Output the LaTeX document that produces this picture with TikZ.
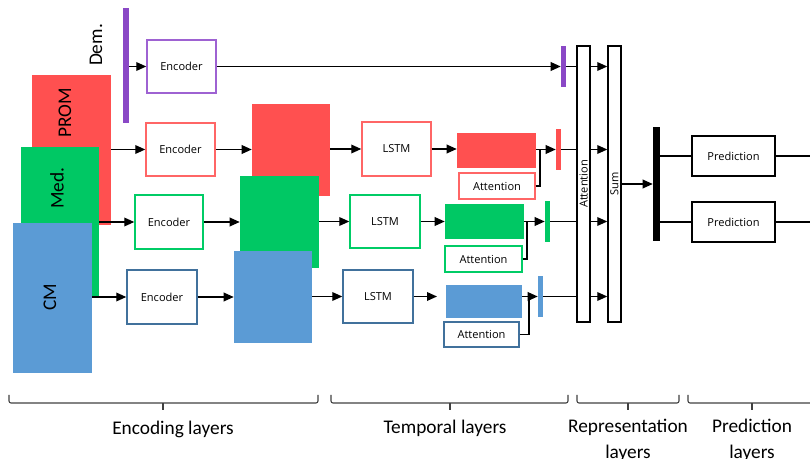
\documentclass[tikz,border=0pt]{standalone}
\usepackage{fontspec}
\setmainfont{Open Sans}
\newfontfamily\calib{Carlito}
\usetikzlibrary{arrows.meta}

\definecolor{promred}{HTML}{FF5050}
\definecolor{medgreen}{HTML}{00C864}
\definecolor{cmblue}{HTML}{5B9BD5}
\definecolor{dempurple}{HTML}{8A48C6}
\definecolor{redline}{HTML}{FF6666}
\definecolor{greenline}{HTML}{00CC66}
\definecolor{blueline}{HTML}{41719C}
\definecolor{purpleline}{HTML}{9E62D2}
\definecolor{bracket}{HTML}{404040}

% rectangle node from its two corners: [options]{name}{x1}{y1}{x2}{y2}{text}
\newcommand{\rectnode}[7][]{%
  \node[#1, minimum width={(#5-#3)*0.75pt}, minimum height={(#6-#4)*0.75pt}]
    (#2) at ({(#3+#5)/2},{(#4+#6)/2}) {#7};}

\begin{document}
\begin{tikzpicture}[x=0.75pt,y=-0.75pt,
  box/.style={draw, line width=1.1pt, fill=white, inner sep=0pt,
              font=\fontsize{8.3}{10}\selectfont},
  blk/.style={inner sep=0pt, draw=none},
  link/.style={line width=1pt},
  arr/.style={link, -{Triangle[length=7.5pt,width=6.5pt]}},
  bigtxt/.style={font=\calib\fontsize{14.5}{17}\selectfont, rotate=90, inner sep=0pt},
  sidetxt/.style={font=\fontsize{8.3}{10}\selectfont, rotate=90, inner sep=0pt},
  laytxt/.style={font=\calib\fontsize{14.5}{19.5}\selectfont, align=center, inner sep=0pt},
  brk/.style={draw=bracket, line width=0.8pt, rounded corners=1.5pt},
]
\useasboundingbox (0,0) rectangle (810,459);

% ---------- input modalities ----------
\rectnode[blk, fill=promred]{prom}{32}{75}{111}{225}{}
\rectnode[blk, fill=medgreen]{med}{21}{147}{99}{297}{}
\rectnode[blk, fill=cmblue]{cm}{13}{223}{92}{373}{}
\rectnode[blk, fill=dempurple]{dbar}{123}{8}{129}{123}{}
\node[bigtxt] (demlab) at (96,45) {Dem.};
\node[bigtxt] (promlab) at (65,113) {PROM};
\node[bigtxt] (medlab) at (57,188) {Med.};
\node[bigtxt] (cmlab) at (50,297) {CM};

% ---------- encoders ----------
\rectnode[box, draw=purpleline]{denc}{147}{40}{216}{93}{Encoder}
\rectnode[box, draw=redline]{renc}{146}{123}{215}{176}{Encoder}
\rectnode[box, draw=greenline]{genc}{135}{195}{203}{249}{Encoder}
\rectnode[box, draw=blueline]{benc}{127}{270}{197}{324}{Encoder}

% encoded sequences
\rectnode[blk, fill=promred]{rblk}{252}{104}{330}{196}{}
\rectnode[blk, fill=medgreen]{gblk}{240}{176}{319}{268}{}
\rectnode[blk, fill=cmblue]{bblk}{234}{251}{312}{343}{}

% ---------- temporal layers ----------
\rectnode[box, draw=redline]{rlstm}{362}{122}{431}{176}{LSTM}
\rectnode[box, draw=greenline]{glstm}{350}{195}{420}{248}{LSTM}
\rectnode[box, draw=blueline]{blstm}{343}{270}{413}{323}{LSTM}

\rectnode[blk, fill=promred]{rrect}{457}{133}{536}{168}{}
\rectnode[blk, fill=medgreen]{grect}{445}{204}{524}{239}{}
\rectnode[blk, fill=cmblue]{brect}{446}{285}{522}{318}{}

\rectnode[box, draw=redline]{ratt}{459}{173}{535}{199}{Attention}
\rectnode[box, draw=greenline]{gatt}{445}{246}{522}{272}{Attention}
\rectnode[box, draw=blueline]{batt}{444}{322}{519}{347}{Attention}

% per-modality representations
\rectnode[blk, fill=dempurple]{dsm}{561}{46}{566}{87}{}
\rectnode[blk, fill=promred]{rsm}{556}{129}{561}{170}{}
\rectnode[blk, fill=medgreen]{gsm}{545}{201}{550}{242}{}
\rectnode[blk, fill=cmblue]{bsm}{538}{276}{543}{317}{}

% ---------- representation layers ----------
\rectnode[box]{attn}{577}{46}{590}{322}{}
\node[sidetxt] (attnlab) at (attn.center) {Attention};
\rectnode[box]{sum}{608}{46}{621}{322}{}
\node[sidetxt] (sumlab) at (sum.center) {Sum};

% ---------- prediction layers ----------
\rectnode[blk, fill=black]{kbar}{653}{127}{660}{241}{}
\rectnode[box]{pred1}{692}{136}{775}{176}{Prediction}
\rectnode[box]{pred2}{692}{202}{775}{242}{Prediction}
\coordinate (out1) at (810,156);
\coordinate (out2) at (810,222);

% ---------- connectors ----------
% Dem. row
\draw[arr] (dbar.east |- denc.west) -- (denc.west);
\draw[arr] (denc.east) -- (denc.east -| dsm.west);
\draw[link] (dsm.east) -- (dsm.east -| attn.west);
\draw[arr] (attn.east |- dsm.east) -- (sum.west |- dsm.east);

% PROM row
\draw[arr] (prom.east |- renc.west) -- (renc.west);
\draw[arr] (renc.east) -- (renc.east -| rblk.west);
\draw[arr] (rblk.east |- rlstm.west) -- (rlstm.west);
\draw[arr] (rlstm.east) -- (rlstm.east -| rrect.west);
\draw[arr] (rrect.east |- rsm.west) -- (rsm.west);
\coordinate (rjoin) at (540,149.5);
\draw[link] (ratt.east) -| (rjoin);
\draw[link] (rsm.east) -- (rsm.east -| attn.west);
\draw[arr] (attn.east |- rsm.east) -- (sum.west |- rsm.east);

% Med. row
\draw[arr] (med.east |- genc.west) -- (genc.west);
\draw[arr] (genc.east) -- (genc.east -| gblk.west);
\draw[arr] (gblk.east |- glstm.west) -- (glstm.west);
\draw[arr] (glstm.east) -- (glstm.east -| grect.west);
\draw[arr] (grect.east |- gsm.west) -- (gsm.west);
\coordinate (gjoin) at (527,221.5);
\draw[link] (gatt.east) -| (gjoin);
\draw[link] (gsm.east) -- (gsm.east -| attn.west);
\draw[arr] (attn.east |- gsm.east) -- (sum.west |- gsm.east);

% CM row
\draw[arr] (cm.east |- benc.west) -- (benc.west);
\draw[arr] (benc.east) -- (benc.east -| bblk.west);
\draw[arr] (bblk.east |- blstm.west) -- (blstm.west);
\coordinate (btip) at (437,296.5);
\draw[arr] (blstm.east) -- (btip);
\draw[arr] (brect.east |- bsm.west) -- (bsm.west);
\coordinate (bjoin) at (529,296.5);
\draw[link] (batt.east) -| (bjoin);
\draw[link] (bsm.east) -- (bsm.east -| attn.west);
\draw[arr] (attn.east |- bsm.east) -- (sum.west |- bsm.east);

% fusion and prediction heads
\draw[arr] (sum.east) -- (sum.east -| kbar.west);
\draw[link] (kbar.east |- pred1.west) -- (pred1.west);
\draw[link] (kbar.east |- pred2.west) -- (pred2.west);
\draw[link] (pred1.east) -- (out1);
\draw[link] (pred2.east) -- (out2);

% ---------- layer brackets ----------
\draw[brk] (9,395) -- (9,403) -- (318,403) -- (318,395);
\draw[brk] (163,403) -- (163,410);
\draw[brk] (331,395) -- (331,403) -- (568,403) -- (568,395);
\draw[brk] (450,403) -- (450,410);
\draw[brk] (577,395) -- (577,403) -- (679,403) -- (679,395);
\draw[brk] (628,403) -- (628,410);
\draw[brk] (688,395) -- (688,403) -- (812,403);
\draw[brk] (752,403) -- (752,410);

\node[laytxt] (enclab) at (173,429) {Encoding layers};
\node[laytxt] (tmplab) at (445,428) {Temporal layers};
\node[laytxt] (replab) at (628,440) {Representation\\layers};
\node[laytxt] (prdlab) at (752,440) {Prediction\\layers};
\end{tikzpicture}
\end{document}
